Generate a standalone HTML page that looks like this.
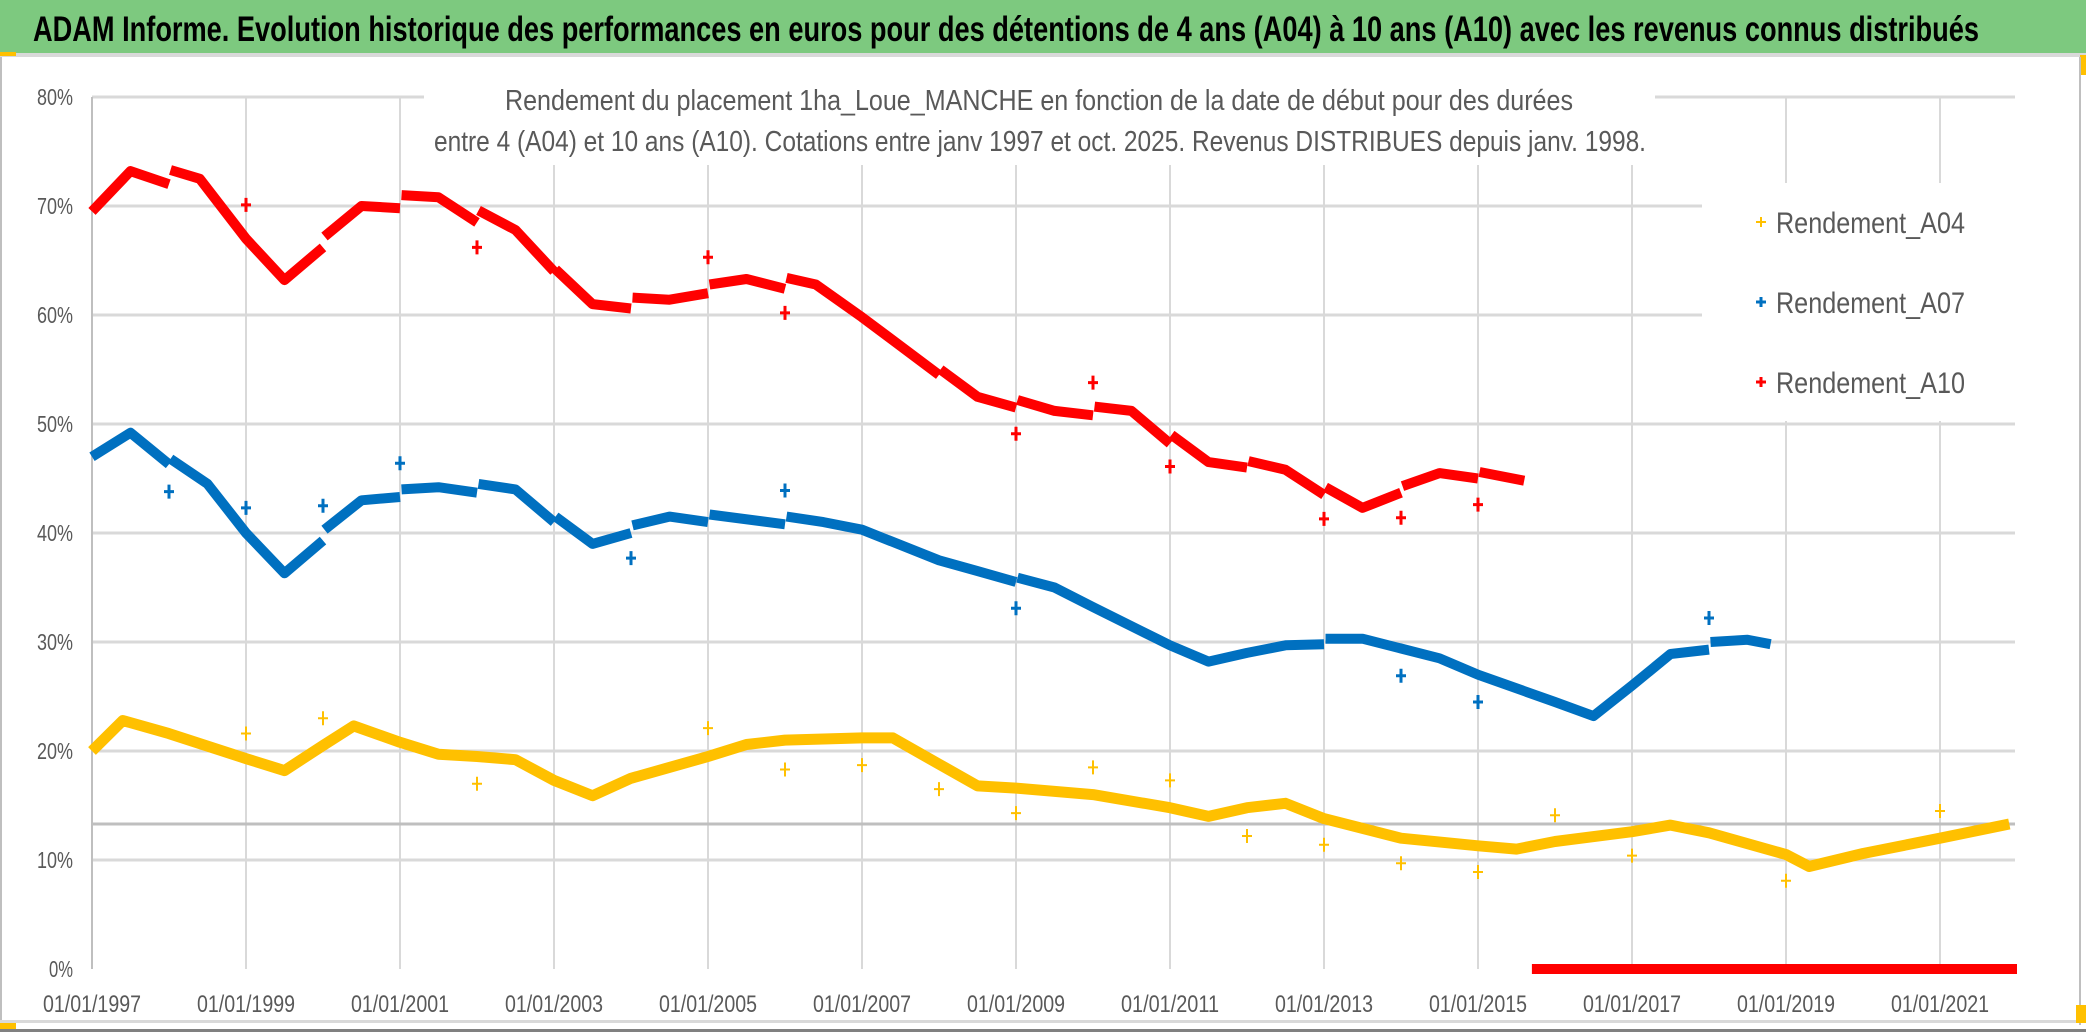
<!DOCTYPE html>
<html><head><meta charset="utf-8">
<style>
html,body{margin:0;padding:0;background:#fff;}
svg{display:block;font-family:"Liberation Sans",sans-serif;}
</style></head>
<body>
<svg id="chart" width="2086" height="1032" viewBox="0 0 2086 1032" xmlns="http://www.w3.org/2000/svg">
  <rect x="0" y="0" width="2086" height="1032" fill="#fff"/>
  <rect x="0" y="0" width="2086" height="53" fill="#7DC97F"/>
  <text x="33" y="41" font-size="35" font-weight="bold" fill="#000" textLength="1946" lengthAdjust="spacingAndGlyphs">ADAM Informe. Evolution historique des performances en euros pour des détentions de 4 ans (A04) à 10 ans (A10) avec les revenus connus distribués</text>
  <rect x="0" y="53" width="2086" height="4" fill="#d9d9d9"/>
  <rect x="0" y="52" width="16" height="4" fill="#FFC000"/>
  <rect x="2080" y="55" width="6" height="20" fill="#FFC000"/>
  <line x1="2080" y1="57" x2="2080" y2="1025" stroke="#bfbfbf" stroke-width="2"/>
  <line x1="1" y1="57" x2="1" y2="1030" stroke="#bfbfbf" stroke-width="2"/>
  <rect x="0" y="1020" width="2086" height="3" fill="#d9d9d9"/>
  <rect x="0" y="1029" width="2086" height="3" fill="#808080"/>
  <rect x="0" y="1023" width="16" height="6" fill="#FFC000"/>
  <rect x="2076" y="1005" width="10" height="18" fill="#FFC000"/>
  <g id="grid"></g>
  <g id="axes"></g>
  <g id="series"></g>
  <rect x="424" y="70" width="1231" height="95" fill="#fff"/>
  <text x="505" y="110" font-size="29" fill="#595959" textLength="1068" lengthAdjust="spacingAndGlyphs">Rendement du placement 1ha_Loue_MANCHE en fonction de la date de début pour des durées</text>
  <text x="434" y="151" font-size="29" fill="#595959" textLength="1212" lengthAdjust="spacingAndGlyphs">entre 4 (A04) et 10 ans (A10). Cotations entre janv 1997 et oct. 2025. Revenus DISTRIBUES depuis janv. 1998.</text>
  <g>
    <rect x="1702" y="183" width="314" height="238" fill="#fff"/>
    <g>
      <path d="M1756 222h10M1761 217v10" stroke="#FFC000" stroke-width="2"/>
      <text x="1776" y="233" font-size="30" fill="#595959" textLength="189" lengthAdjust="spacingAndGlyphs">Rendement_A04</text>
    </g>
    <g>
      <path d="M1756 302h10M1761 297v10" stroke="#0070C0" stroke-width="3"/>
      <text x="1776" y="313" font-size="30" fill="#595959" textLength="189" lengthAdjust="spacingAndGlyphs">Rendement_A07</text>
    </g>
    <g>
      <path d="M1756 382h10M1761 377v10" stroke="#FF0000" stroke-width="3"/>
      <text x="1776" y="393" font-size="30" fill="#595959" textLength="189" lengthAdjust="spacingAndGlyphs">Rendement_A10</text>
    </g>
  </g>
</svg>
<script>
// ---- data ----
const yTicks = [0,10,20,30,40,50,60,70,80];
const yTickLabels = ["0%","10%","20%","30%","40%","50%","60%","70%","80%"];
const xTicks = [1997,1999,2001,2003,2005,2007,2009,2011,2013,2015,2017,2019,2021];
const xTickLabels = ["01/01/1997","01/01/1999","01/01/2001","01/01/2003","01/01/2005","01/01/2007","01/01/2009","01/01/2011","01/01/2013","01/01/2015","01/01/2017","01/01/2019","01/01/2021"];
const refLevel = 13.3;
const a10Years = [[1997,1997.5,1998],[1998.02,1998.4,1999,1999.5,2000],[2000.02,2000.5,2001],[2001.02,2001.5,2002],[2002.02,2002.5,2003],[2003.02,2003.5,2004],[2004.02,2004.5,2005],[2005.02,2005.5,2006],[2006.02,2006.4,2007,2008],[2008.02,2008.5,2009],[2009.02,2009.5,2010],[2010.02,2010.5,2011],[2011.02,2011.5,2012],[2012.02,2012.5,2013],[2013.02,2013.5,2014],[2014.02,2014.5,2015],[2015.02,2015.6]];
const a10Values = [[69.5,73.2,72.0],[73.3,72.5,67.0,63.2,66.2],[67.2,70.0,69.8],[71.0,70.8,68.5],[69.6,67.8,64.0],[64.2,61.0,60.6],[61.6,61.4,62.0],[62.8,63.3,62.4],[63.4,62.8,59.8,54.5],[55.0,52.5,51.5],[52.2,51.2,50.8],[51.6,51.2,48.2],[49.0,46.5,46.0],[46.6,45.8,43.5],[44.2,42.3,43.7],[44.3,45.5,45.0],[45.6,44.8]];
const a10ZeroYears = [[2015.7,2022.0]];
const a10ZeroValues = [[0,0]];
const a07Years = [[1997,1997.5,1998],[1998.02,1998.5,1999,1999.5,2000],[2000.02,2000.5,2001],[2001.02,2001.5,2002],[2002.02,2002.5,2003],[2003.02,2003.5,2004],[2004.02,2004.5,2005],[2005.02,2006],[2006.02,2006.5,2007,2008,2008.5,2009],[2009.02,2009.5,2010,2011,2011.5,2012,2012.5,2013],[2013.02,2013.5,2014,2014.5,2015,2016,2016.5,2017,2017.5,2018],[2018.02,2018.5,2018.8]];
const a07Values = [[47.0,49.2,46.3],[46.8,44.5,40.0,36.3,39.3],[40.3,43.0,43.3],[44.0,44.2,43.7],[44.5,44.0,41.0],[41.5,39.0,40.0],[40.7,41.5,41.0],[41.7,40.8],[41.5,41.0,40.3,37.5,36.5,35.5],[35.9,35.0,33.2,29.7,28.2,29.0,29.7,29.8],[30.3,30.3,29.4,28.5,27.0,24.5,23.2,26.0,28.9,29.3],[30.0,30.2,29.8]];
const a04Years = [[1997,1997.4,1998,1999,1999.5,2000,2000.4,2001,2001.5,2002,2002.5,2003,2003.5,2004,2005,2005.5,2006,2007,2007.4,2008,2008.5,2009,2010,2011,2011.5,2012,2012.5,2013,2014,2015,2015.5,2016,2017,2017.5,2018,2019,2019.3,2020,2021,2021.9]];
const a04Values = [[20.0,22.8,21.6,19.3,18.2,20.5,22.3,20.8,19.7,19.5,19.2,17.3,15.9,17.5,19.5,20.6,21.0,21.2,21.2,18.8,16.8,16.6,16.0,14.8,14.0,14.8,15.2,13.8,12.0,11.3,11.0,11.7,12.6,13.2,12.5,10.5,9.4,10.6,12.0,13.3]];
const a10OutYears = [1999,2002,2005,2006,2009,2010,2011,2013,2014,2015];
const a10OutValues = [70.1,66.2,65.3,60.2,49.1,53.8,46.1,41.3,41.4,42.6];
const a07OutYears = [1998,1999,2000,2001,2004,2006,2009,2014,2015,2018];
const a07OutValues = [43.8,42.3,42.5,46.4,37.7,43.9,33.1,26.9,24.5,32.2];
const a04OutYears = [1999,2000,2002,2005,2006,2007,2008,2009,2010,2011,2012,2013,2014,2015,2016,2017,2019,2021];
const a04OutValues = [21.6,23.0,17.0,22.1,18.3,18.7,16.5,14.3,18.5,17.3,12.2,11.4,9.7,8.9,14.1,10.4,8.1,14.5];

// ---- axes ----
const X0 = 92, PXY = 77, Y0 = 969, PXV = 10.9, XR = 2015;
function sx(yr){ return X0 + (yr - 1997) * PXY; }
function sy(v){ return Y0 - v * PXV; }
const NS = "http://www.w3.org/2000/svg";
function mk(tag, attrs, parent){ const e = document.createElementNS(NS, tag); for (const k in attrs) e.setAttribute(k, attrs[k]); parent.appendChild(e); return e; }

const grid = document.getElementById('grid');
const axes = document.getElementById('axes');
xTicks.forEach((t, i) => {
  if (i === 0) return;
  const l = mk('line', {x1: sx(t), x2: sx(t), y1: sy(80), y2: sy(0), stroke: '#d9d9d9', 'stroke-width': 2}, grid);
  
  
});
yTicks.forEach((t) => {
  if (t === 0) return;
  const l = mk('line', {x1: X0, x2: XR, y1: sy(t), y2: sy(t), stroke: '#d9d9d9', 'stroke-width': 3}, grid);
  
  
});
const ref = mk('line', {x1: X0, x2: XR, y1: sy(refLevel), y2: sy(refLevel), stroke: '#bfbfbf', 'stroke-width': 3}, grid);


const ax = mk('line', {x1: X0, x2: X0, y1: sy(80), y2: sy(0), stroke: '#bfbfbf', 'stroke-width': 2}, axes);


yTicks.forEach((t, i) => {
  const w = yTickLabels[i].length * 12;
  const tx = mk('text', {x: 73 - w, y: sy(t) + 8, 'font-size': 23, fill: '#595959', textLength: w, lengthAdjust: 'spacingAndGlyphs'}, axes);
  tx.textContent = yTickLabels[i];
  
  
});
xTicks.forEach((t, i) => {
  const tx = mk('text', {x: sx(t) - 49, y: 1012, 'font-size': 24, fill: '#595959', textLength: 98, lengthAdjust: 'spacingAndGlyphs'}, axes);
  tx.textContent = xTickLabels[i];
  
  
});

// ---- series ----
const series = document.getElementById('series');
function drawSeries(yearsSegs, valSegs, color, width, name){
  const g = mk('g', {}, series);
  
  
  yearsSegs.forEach((ys, si) => {
    const pts = ys.map((y, j) => sx(y).toFixed(1) + ',' + sy(valSegs[si][j]).toFixed(1)).join(' ');
    const p = mk('polyline', {points: pts, fill: 'none', stroke: color, 'stroke-width': width, 'stroke-linejoin': 'round', 'stroke-linecap': 'butt'}, g);
    
    
  });
}
function drawOutliers(ys, vs, color, sw, name){
  const g = mk('g', {}, series);
  
  
  ys.forEach((y, i) => {
    const cx = sx(y), cy = sy(vs[i]);
    const p = mk('path', {d: `M${cx-5} ${cy}h10M${cx} ${cy-7}v14`, stroke: color, 'stroke-width': sw}, g);
    
    
  });
}
drawSeries(a04Years, a04Values, '#FFC000', 11, 'series-a04');
drawOutliers(a04OutYears, a04OutValues, '#FFC000', 2, 'outliers-a04');
drawSeries(a07Years, a07Values, '#0070C0', 10, 'series-a07');
drawOutliers(a07OutYears, a07OutValues, '#0070C0', 3, 'outliers-a07');
drawSeries(a10Years, a10Values, '#FF0000', 10, 'series-a10');
drawSeries(a10ZeroYears, a10ZeroValues, '#FF0000', 10, 'series-a10-zero');
drawOutliers(a10OutYears, a10OutValues, '#FF0000', 3, 'outliers-a10');
</script>
</body></html>
